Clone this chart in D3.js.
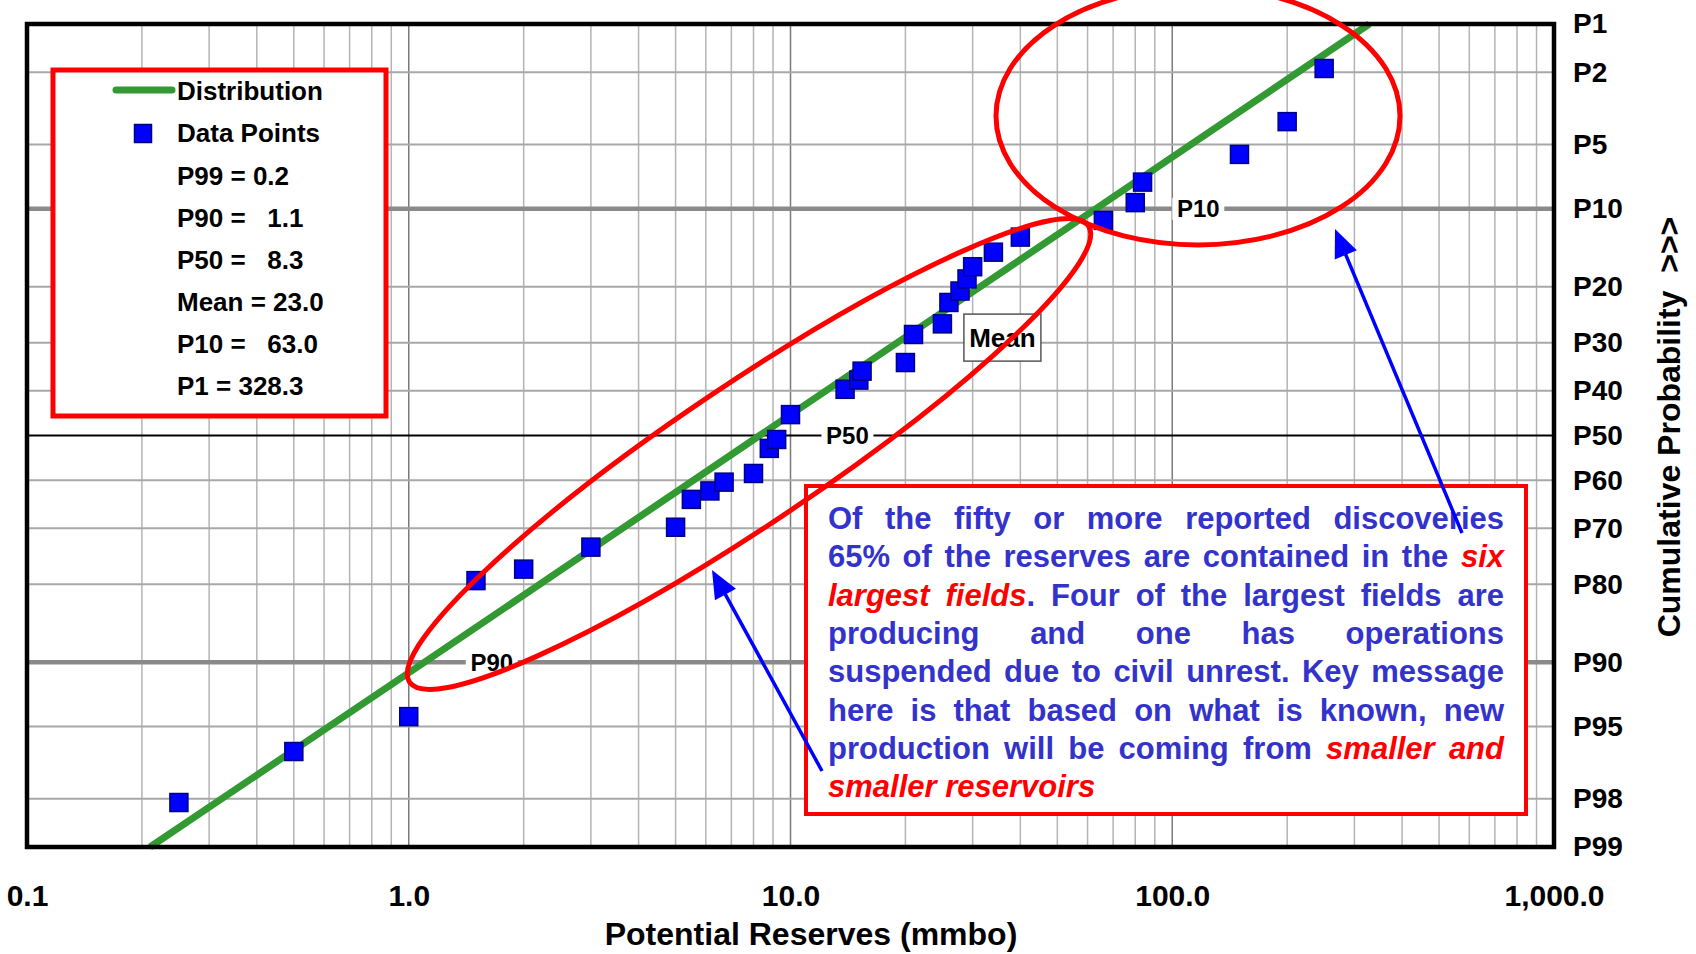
<!DOCTYPE html>
<html><head><meta charset="utf-8">
<script src="https://cdn.jsdelivr.net/npm/d3@7"></script>
<style>
html,body{margin:0;padding:0;background:#fff;}
svg{display:block;}
text{font-family:"Liberation Sans",Arial,Helvetica,sans-serif;font-weight:bold;white-space:pre;}
</style></head><body>
<svg id="chart" width="1696" height="954"></svg>
<script>
// ---------------- data ----------------
const reserves   = [0.25, 0.5, 1.0, 1.5, 2.0, 3.0, 5.0, 5.5, 6.15, 6.7, 8.0, 8.8, 9.2, 10.0, 13.9, 15.1, 15.4, 20.0, 21.0, 25.0, 26.0, 27.8, 29.0, 30.0, 34.0, 40.0, 66.0, 80.0, 83.6, 150, 200, 250];
const exceedance = [98.1, 96.3, 94.4, 79.4, 77.5, 73.6, 69.8, 64.1, 62.3, 60.4, 58.5, 52.9, 50.9, 45.3, 39.7, 37.7, 35.8, 34.0, 28.4, 26.4, 22.6, 20.7, 18.8, 17.0, 15.0, 13.1, 11.2, 9.4, 7.6, 5.6, 3.8, 1.9];
const distExceedance = [99, 90, 50, 10, 1];
const distReserves   = [0.21, 1.1, 8.3, 63.0, 328.3];
const xTickValues = [0.1, 1, 10, 100, 1000];
const xTickLabels = ["0.1", "1.0", "10.0", "100.0", "1,000.0"];
const yTickValues = [1, 2, 5, 10, 20, 30, 40, 50, 60, 70, 80, 90, 95, 98, 99];
const yTickLabels = ["P1","P2","P5","P10","P20","P30","P40","P50","P60","P70","P80","P90","P95","P98","P99"];
const legendLabels = ["Distribution", "Data Points", "P99 = 0.2", "P90 =   1.1", "P50 =   8.3", "Mean = 23.0", "P10 =   63.0", "P1 = 328.3"];
const refLabelText = ["P90", "P50", "P10"];
const refLabelProb = [90, 50, 10];
const refLabelAt   = [1.65, 14.1, 117];
const meanLabelAt  = [35.9, 29.0];   // reserves, exceedance of "Mean" label centre
const noteLines = [
  [["Of the fifty or more reported discoveries", 0]],
  [["65% of the reserves are contained in the ", 0], ["six", 1]],
  [["largest fields", 1], [". Four of the largest fields are", 0]],
  [["producing and one has operations", 0]],
  [["suspended due to civil unrest. Key message", 0]],
  [["here is that based on what is known, new", 0]],
  [["production will be coming from ", 0], ["smaller and", 1]],
  [["smaller reservoirs", 1]]
];

// ---------------- helpers ----------------
function probit(p){
  const a=[-3.969683028665376e+01,2.209460984245205e+02,-2.759285104469687e+02,1.383577518672690e+02,-3.066479806614716e+01,2.506628277459239e+00];
  const b=[-5.447609879822406e+01,1.615858368580409e+02,-1.556989798598866e+02,6.680131188771972e+01,-1.328068155288572e+01];
  const c=[-7.784894002430293e-03,-3.223964580411365e-01,-2.400758277161838e+00,-2.549732539343734e+00,4.374664141464968e+00,2.938163982698783e+00];
  const d=[7.784695709041462e-03,3.224671290700398e-01,2.445134137142996e+00,3.754408661907416e+00];
  const pl=0.02425, ph=1-pl; let q,r;
  if(p<pl){q=Math.sqrt(-2*Math.log(p));return (((((c[0]*q+c[1])*q+c[2])*q+c[3])*q+c[4])*q+c[5])/((((d[0]*q+d[1])*q+d[2])*q+d[3])*q+1);}
  if(p<=ph){q=p-0.5;r=q*q;return (((((a[0]*r+a[1])*r+a[2])*r+a[3])*r+a[4])*r+a[5])*q/(((((b[0]*r+b[1])*r+b[2])*r+b[3])*r+b[4])*r+1);}
  q=Math.sqrt(-2*Math.log(1-p));return -(((((c[0]*q+c[1])*q+c[2])*q+c[3])*q+c[4])*q+c[5])/((((d[0]*q+d[1])*q+d[2])*q+d[3])*q+1);
}
const zOf = e => probit(1 - e/100);

// ---------------- layout ----------------
const svg = d3.select("#chart");
const P = {left:27, right:1554, top:24, bottom:847};
const x = d3.scaleLog().domain([0.1, 1000]).range([P.left, P.right]);
const zScale = d3.scaleLinear().domain([zOf(1), zOf(99)]).range([P.top, P.bottom]);
const y = e => zScale(zOf(e));
const isDecade = v => Math.abs(Math.log10(v) - Math.round(Math.log10(v))) < 1e-9;

// vertical grid
const vTicks = x.ticks().filter(v => v > 0.10001 && v < 999);
svg.append("g").selectAll("line").data(vTicks).join("line")
  .attr("x1", d => x(d)).attr("x2", d => x(d)).attr("y1", P.top).attr("y2", P.bottom)
  .attr("stroke", d => isDecade(d) ? "#7a7a7a" : "#b4b4b4").attr("stroke-width", 1.5);

// horizontal grid
const hTicks = yTickValues.filter(v => v > 1 && v < 99);
svg.append("g").selectAll("line").data(hTicks).join("line")
  .attr("x1", P.left).attr("x2", P.right).attr("y1", d => y(d)).attr("y2", d => y(d))
  .attr("stroke", d => d === 50 ? "#000" : (d === 10 || d === 90) ? "#8a8a8a" : "#a8a8a8")
  .attr("stroke-width", d => d === 50 ? 2 : (d === 10 || d === 90) ? 4.5 : 2);

// distribution line
svg.append("path")
  .datum(distReserves.map((v, i) => [v, distExceedance[i]]))
  .attr("d", d3.line().x(d => x(d[0])).y(d => y(d[1])))
  .attr("fill", "none").attr("stroke", "#339933").attr("stroke-width", 7);

// data points
const S = 18;
svg.append("g").selectAll("rect").data(reserves.map((v, i) => [v, exceedance[i]])).join("rect")
  .attr("x", d => x(d[0]) - S/2).attr("y", d => y(d[1]) - S/2)
  .attr("width", S).attr("height", S)
  .attr("fill", "#0000ff").attr("stroke", "#000080").attr("stroke-width", 1.5);

// frame
svg.append("rect").attr("x", P.left).attr("y", P.top)
  .attr("width", P.right - P.left).attr("height", P.bottom - P.top)
  .attr("fill", "none").attr("stroke", "#000").attr("stroke-width", 4.5);

// P90 / P50 / P10 labels on lines
refLabelText.forEach((t, i) => {
  const cx = x(refLabelAt[i]), cy = y(refLabelProb[i]);
  svg.append("rect").attr("x", cx - 26).attr("y", cy - 11).attr("width", 52).attr("height", 22).attr("fill", "#fff");
  svg.append("text").attr("x", cx).attr("y", cy + 8.5).attr("text-anchor", "middle")
    .attr("font-size", 24).attr("fill", "#000").text(t);
});

// legend
const lg = svg.append("g");
lg.append("rect").attr("x", 53).attr("y", 70).attr("width", 333).attr("height", 346)
  .attr("fill", "#fff").attr("stroke", "#ff0000").attr("stroke-width", 5);
legendLabels.forEach((t, i) => {
  const cy = 91 + i * 42.15;
  lg.append("text").attr("x", 177).attr("y", cy + 9.3).attr("font-size", 26).attr("fill", "#000").text(t);
});
lg.append("line").attr("x1", 116).attr("x2", 172).attr("y1", 90).attr("y2", 90)
  .attr("stroke", "#339933").attr("stroke-width", 7).attr("stroke-linecap", "round");
lg.append("rect").attr("x", 143 - 8.5).attr("y", 133.5 - 9).attr("width", 17).attr("height", 18)
  .attr("fill", "#0000ff").attr("stroke", "#000080").attr("stroke-width", 1.5);

// Mean label
{
  const cx = x(meanLabelAt[0]), cy = y(meanLabelAt[1]);
  svg.append("rect").attr("x", cx - 38.5).attr("y", cy - 23.5).attr("width", 77).attr("height", 47)
    .attr("fill", "#fff").attr("stroke", "#555").attr("stroke-width", 1.5);
  svg.append("text").attr("x", cx).attr("y", cy + 9.5).attr("text-anchor", "middle")
    .attr("font-size", 26).attr("fill", "#000").text("Mean");
}

// annotation box with justified text
const noteG = svg.append("g");
noteG.append("rect").attr("x", 806).attr("y", 486).attr("width", 720).attr("height", 328)
  .attr("fill", "#fff").attr("stroke", "#ff0000").attr("stroke-width", 4);
const fs = 31, tLeft = 828, tRight = 1504, base0 = 529, pitch = 38.3;
noteLines.forEach((pieces, li) => {
  const words = []; let cur = [];
  pieces.forEach(([txt, red]) => {
    txt.split(" ").forEach((p, j) => {
      if (j > 0) { if (cur.length) words.push(cur); cur = []; }
      if (p.length) cur.push([p, red]);
    });
  });
  if (cur.length) words.push(cur);
  const nodes = words.map(w => {
    const t = noteG.append("text").attr("y", base0 + li * pitch).attr("font-size", fs);
    w.forEach(([p, red]) => t.append("tspan").text(p)
      .attr("fill", red ? "#ff0000" : "#3333cc").attr("font-style", red ? "italic" : "normal"));
    return t;
  });
  const widths = nodes.map(n => n.node().getComputedTextLength());
  const total = d3.sum(widths);
  const last = li === noteLines.length - 1;
  const gap = (!last && nodes.length > 1) ? (tRight - tLeft - total) / (nodes.length - 1) : fs * 0.278;
  let xx = tLeft;
  nodes.forEach((n, i) => { n.attr("x", xx); xx += widths[i] + gap; });
});

// red ellipses
svg.append("ellipse").attr("cx", 1198).attr("cy", 116).attr("rx", 202).attr("ry", 129)
  .attr("fill", "none").attr("stroke", "#ff0000").attr("stroke-width", 5);
svg.append("ellipse").attr("cx", 0).attr("cy", 0).attr("rx", 409).attr("ry", 70)
  .attr("transform", "translate(749,454) rotate(-33.9)")
  .attr("fill", "none").attr("stroke", "#ff0000").attr("stroke-width", 5);

// arrows
function arrow(x1, y1, x2, y2){
  const dx = x2 - x1, dy = y2 - y1, L = Math.hypot(dx, dy), ux = dx / L, uy = dy / L;
  const hl = 28, hw = 12;
  const bx = x2 - ux * hl, by = y2 - uy * hl;
  svg.append("line").attr("x1", x1).attr("y1", y1).attr("x2", bx + ux * 4).attr("y2", by + uy * 4)
    .attr("stroke", "#0000ff").attr("stroke-width", 3.5);
  svg.append("path").attr("d", `M${x2},${y2}L${bx - uy * hw},${by + ux * hw}L${bx + uy * hw},${by - ux * hw}Z`)
    .attr("fill", "#0000ff");
}
arrow(822, 771, 712, 570);
arrow(1462, 533, 1335, 229);

// axes
const xAxis = svg.append("g").attr("transform", `translate(0,${P.bottom})`)
  .call(d3.axisBottom(x).tickValues(xTickValues).tickFormat((d, i) => xTickLabels[i]).tickSize(0).tickPadding(38));
xAxis.select(".domain").remove();
xAxis.selectAll("text").attr("font-size", 30).attr("fill", "#000")
  .style("font-family", '"Liberation Sans",Arial,sans-serif').style("font-weight", "bold");

const yAxis = svg.append("g").attr("transform", `translate(${P.right},0)`)
  .call(d3.axisRight(zScale).tickValues(yTickValues.map(zOf)).tickFormat((d, i) => yTickLabels[i]).tickSize(0).tickPadding(19));
yAxis.select(".domain").remove();
yAxis.selectAll("text").attr("font-size", 28).attr("fill", "#000")
  .style("font-family", '"Liberation Sans",Arial,sans-serif').style("font-weight", "bold");

svg.append("text").attr("x", 811).attr("y", 945).attr("text-anchor", "middle")
  .attr("font-size", 32).attr("fill", "#000").text("Potential Reserves (mmbo)");
svg.append("text").attr("transform", "translate(1680,427) rotate(-90)").attr("text-anchor", "middle")
  .attr("font-size", 32).attr("fill", "#000").text("Cumulative Probability  >>>");
</script>
</body></html>
